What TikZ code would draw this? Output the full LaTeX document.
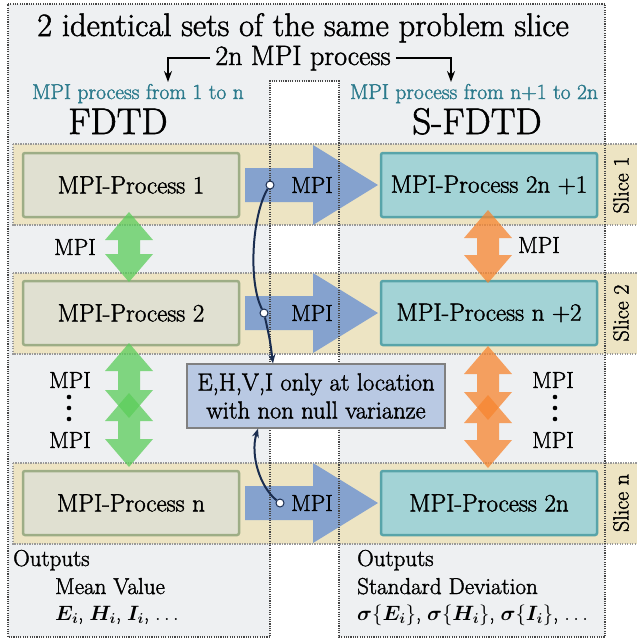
\documentclass[tikz,border=0pt]{standalone}
\usepackage{amsmath}
\usepackage{amssymb}
\usepackage{fontspec}
\setmainfont{Latin Modern Roman}[FakeBold=1.6]
\usetikzlibrary{arrows.meta, positioning}

\definecolor{panelgray}{HTML}{EEF0F2}
\definecolor{slicetan}{HTML}{EDE4C3}
\definecolor{fdtdfill}{HTML}{E0E0D1}
\definecolor{fdtdline}{HTML}{9DAD86}
\definecolor{sfdtdfill}{HTML}{A3D3D6}
\definecolor{sfdtdline}{HTML}{58A4A9}
\definecolor{mpiblue}{HTML}{7A9BD0}
\definecolor{mpigreen}{HTML}{5BCD5A}
\definecolor{mpiorange}{HTML}{F7852F}
\definecolor{maskblue}{HTML}{B9C9E3}
\definecolor{tealtext}{HTML}{2B7A8C}
\definecolor{navy}{HTML}{1A2D50}

% blue arrow from one set to the other, at height #1
\newcommand{\rightmpi}[1]{
	\fill[mpiblue, opacity=.9] (245,#1-17) -- (313,#1-17) -- (313,#1-40) -- (378,#1) -- (313,#1+40) -- (313,#1+17) -- (245,#1+17) -- cycle;
}
% double arrow: colour, x, top tip, bottom tip
\newcommand{\mpiexchange}[4]{
	\fill[#1, opacity=.75] (#2,#3) -- (#2+24,#3+28) -- (#2+11,#3+28) -- (#2+11,#4-28) -- (#2+24,#4-28) -- (#2,#4) -- (#2-24,#4-28) -- (#2-11,#4-28) -- (#2-11,#3+28) -- (#2-24,#3+28) -- cycle;
}

\begin{document}
\begin{tikzpicture}[x=1pt, y=-1pt, font=\fontsize{23}{27}\selectfont,
		proc/.style={rounded corners=2pt, line width=2.5pt, minimum width=216pt, minimum height=64pt, font=\fontsize{25}{30}\selectfont},
		fdtd/.style={proc, fill=fdtdfill, draw=fdtdline},
		sfdtd/.style={proc, fill=sfdtdfill, draw=sfdtdline},
		band/.style={fill=slicetan, draw=gray!80, line width=1.3pt, dash pattern=on 1.2pt off 1.3pt},
		frame/.style={draw=gray!55!black, line width=2pt, dash pattern=on 1.1pt off 1.2pt},
		setlbl/.style={anchor=base, text=tealtext, font=\fontsize{21.5}{26}\selectfont},
		slicelbl/.style={rotate=90, font=\fontsize{22}{26}\selectfont},
		note/.style={anchor=base west, inner sep=0pt},
		fields/.style={note, font=\fontsize{20}{24}\selectfont},
		dot/.style={circle, fill=white, draw=navy, line width=1pt, inner sep=0pt, minimum size=8pt},
		link/.style={navy, line width=2pt, -{Stealth[length=9pt, width=7pt]}},
		pointer/.style={black, line width=1.8pt, -{Stealth[length=11pt, width=8pt]}}]
	\useasboundingbox (0,0) rectangle (637,641);
	\fill[panelgray] (8,4) -- (605,4) -- (605,637) -- (339,637) -- (339,81) -- (270,81) -- (270,637) -- (8,637) -- cycle;
	\foreach \y in {144, 273, 463}{
		\draw[band] (13,\y) rectangle (645,\y+81);
	}
	\foreach \y in {185, 313, 503}{
		\rightmpi{\y}
	}
	\draw[frame] (8,4) -- (605,4) -- (605,637) -- (339,637) -- (339,81) -- (270,81) -- (270,637) -- (8,637) -- cycle;

	\node[anchor=base, font=\fontsize{32.5}{38}\selectfont] (title) at (303,36) {2 identical sets of the same problem slice};
	\node[anchor=base, inner sep=2pt, font=\fontsize{28}{32}\selectfont] (nproc) at (303,65) {2n MPI process};
	\coordinate (tipl) at (168,82);
	\coordinate (tipr) at (451,82);
	\draw[pointer] ([xshift=-3pt]nproc.west) -| (tipl);
	\draw[pointer] ([xshift=3pt]nproc.east) -| (tipr);
	\node[setlbl] (lset) at (138,99) {MPI process from 1 to n};
	\node[setlbl] (rset) at (474,99) {MPI process from n+1 to 2n};
	\node[anchor=base, font=\fontsize{37}{44}\selectfont] (fdtd) at (118,134) {FDTD};
	\node[anchor=base, font=\fontsize{37}{44}\selectfont] (sfdtd) at (477,134) {S-FDTD};

	\foreach [count=\i] \y/\l/\r in {185/1/2n +1, 313/2/n +2, 503/n/2n}{
		\node[fdtd] (p\i) at (131,\y) {MPI-Process \l};
		\node[sfdtd] (q\i) at (489,\y) {MPI-Process \r};
		\node[slicelbl] (s\i) at (621,\y) {Slice \l};
		\node (m\i) at (312,\y) {MPI};
	}

	\mpiexchange{mpigreen}{129}{212}{282}
	\mpiexchange{mpigreen}{129}{343}{418}
	\mpiexchange{mpigreen}{129}{393}{467}
	\mpiexchange{mpiorange}{488}{210}{283}
	\mpiexchange{mpiorange}{488}{346}{420}
	\mpiexchange{mpiorange}{488}{395}{468}

	\node (g1) at (75,247) {MPI};
	\node (g2) at (70,380) {MPI};
	\node (g3) at (70,440) {MPI};
	\node (o1) at (539,245) {MPI};
	\node (o2) at (553,380) {MPI};
	\node (o3) at (553,440) {MPI};
	\foreach \k in {397, 408, 419}{
		\fill (69,\k) circle (2.3);
		\fill (555,\k) circle (2.3);
	}

	\node[fill=maskblue, draw=gray, line width=1.2pt, minimum width=258pt, minimum height=64pt, align=center, font=\fontsize{24.5}{28}\selectfont] (mask) at (316,396) {E,H,V,I only at location\\with non null varianze};

	\node[dot] (d1) at (270,185) {};
	\node[dot] (d2) at (264,313) {};
	\node[dot] (d3) at (280,503) {};
	\coordinate (mtop) at ([xshift=-43pt]mask.north);
	\coordinate (mbot) at ([xshift=-58pt]mask.south);
	\draw[link] (d1) .. controls (252,215) and (248,282) .. (d2) .. controls (270,340) .. (mtop);
	\draw[link] (d3) .. controls (260,487) and (250,455) .. (mbot);

	\node[note] (outl) at (13,566) {Outputs};
	\node[note] (meanl) at (55,594) {Mean Value};
	\node[fields] (fieldl) at (55,620) {$\boldsymbol{E_i}$, $\boldsymbol{H_i}$, $\boldsymbol{I_i}$, $\dots$};
	\node[note] (outr) at (357,566) {Outputs};
	\node[note] (stdr) at (357,594) {Standard Deviation};
	\node[fields] (fieldr) at (357,620) {$\boldsymbol{\sigma}\{\boldsymbol{E_i}\}$, $\boldsymbol{\sigma}\{\boldsymbol{H_i}\}$, $\boldsymbol{\sigma}\{\boldsymbol{I_i}\}$, $\dots$};
\end{tikzpicture}
\end{document}
